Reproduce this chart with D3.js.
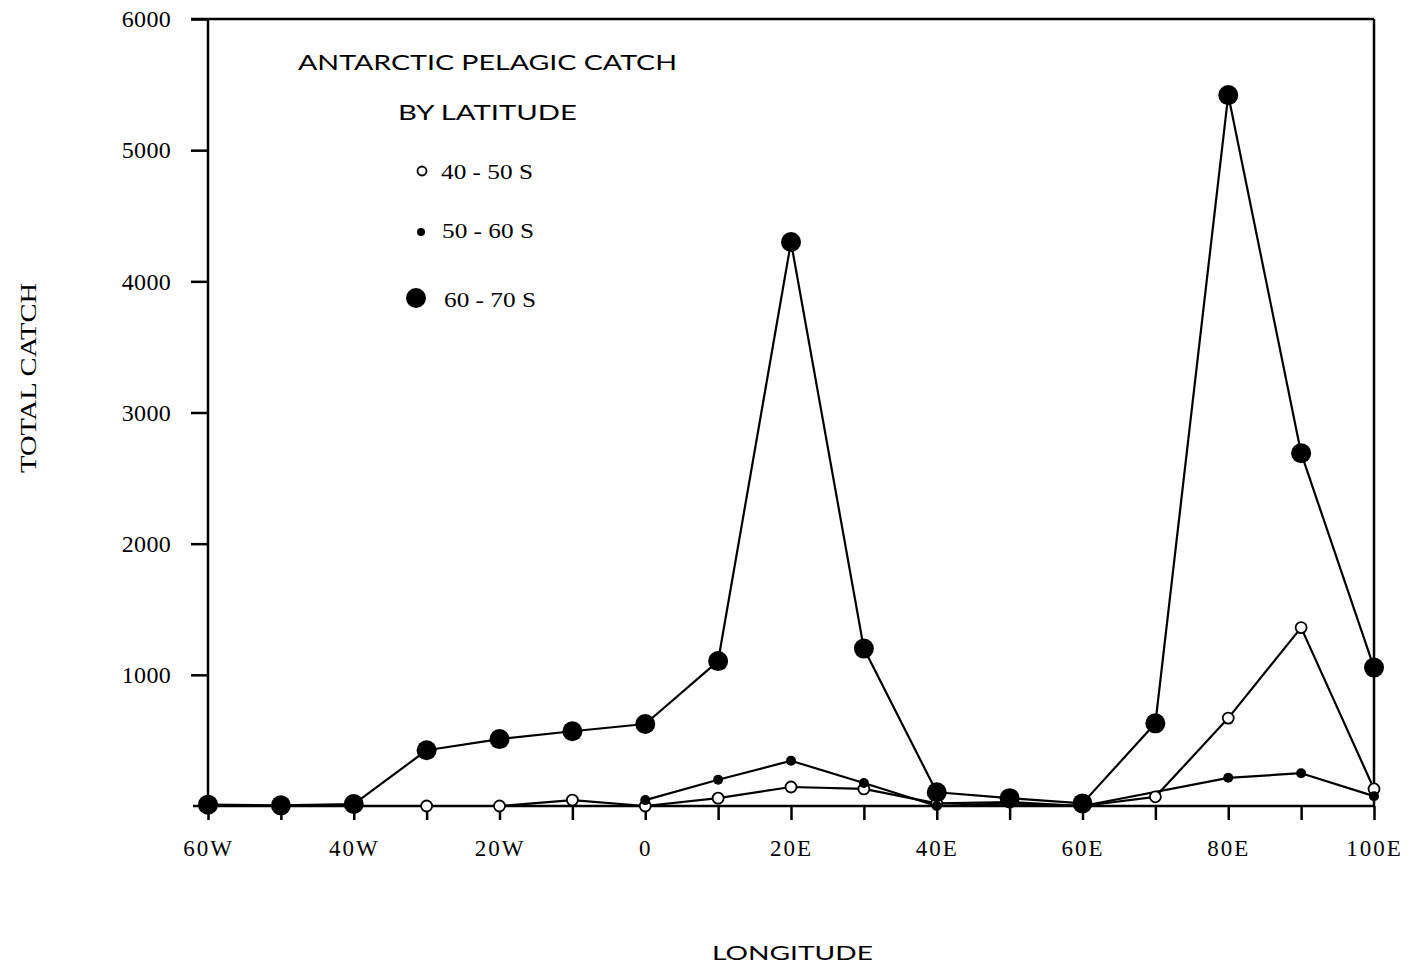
<!DOCTYPE html>
<html>
<head>
<meta charset="utf-8">
<script src="https://cdn.jsdelivr.net/npm/d3@7"></script>
<style>
  html, body { margin: 0; padding: 0; background: #fff; }
  svg { display: block; }
</style>
</head>
<body>
<svg id="chart" width="1413" height="971"></svg>
<script>
// Longitudes (negative = west, positive = east)
const longitudes = [-60, -50, -40, -30, -20, -10, 0, 10, 20, 30, 40, 50, 60, 70, 80, 90, 100];

// Catch by latitude band (null = not recorded)
const catch40to50 = [null, null, null, 0, 0, 45, 0, 60, 145, 130, 20, 30, 0, 70, 670, 1360, 130];
const catch50to60 = [null, null, null, null, null, null, 45, 200, 345, 175, 0, 20, 0, null, 215, 250, 75];
const catch60to70 = [10, 5, 15, 425, 510, 570, 625, 1105, 4300, 1200, 105, 60, 20, 630, 5420, 2690, 1055];

const yTicks = [1000, 2000, 3000, 4000, 5000, 6000];
const xTickLabels = { "-60": "60W", "-40": "40W", "-20": "20W", "0": "0", "20": "20E", "40": "40E", "60": "60E", "80": "80E", "100": "100E" };

const legendItems = [
  { label: "40 - 50 S", kind: "open" },
  { label: "50 - 60 S", kind: "small" },
  { label: "60 - 70 S", kind: "big" }
];

const svg = d3.select("#chart");
const x = d3.scaleLinear().domain([-60, 100]).range([208, 1374]);
const y = d3.scaleLinear().domain([0, 6000]).range([806, 19]);

const serif = "'Liberation Serif', 'DejaVu Serif', serif";
const sans = "Lato, 'Open Sans', sans-serif";

// Axes
const yAxis = d3.axisLeft(y).tickValues(yTicks).tickSize(17).tickPadding(20).tickFormat(d3.format("d"));
const gy = svg.append("g").attr("transform", `translate(${x(-60)},0)`).call(yAxis);
gy.select(".domain").remove();
gy.selectAll(".tick line").attr("stroke", "#000").attr("stroke-width", 2.5);
gy.selectAll(".tick text").attr("font-family", serif).attr("font-size", 24)
  .attr("letter-spacing", 0.3).attr("fill", "#000");

const xAxis = d3.axisBottom(x).tickValues(longitudes).tickSize(14).tickPadding(20)
  .tickFormat(d => xTickLabels[String(d)] || "");
const gx = svg.append("g").attr("transform", `translate(0,${y(0)})`).call(xAxis);
gx.select(".domain").remove();
gx.selectAll(".tick line").attr("stroke", "#000").attr("stroke-width", 2.5);
gx.selectAll(".tick text").attr("font-family", serif).attr("font-size", 23)
  .attr("letter-spacing", 2).attr("fill", "#000");

// Frame
const frame = svg.append("g").attr("stroke", "#000").attr("stroke-width", 2.5).attr("fill", "none");
frame.append("line").attr("x1", x(-60)).attr("x2", x(-60)).attr("y1", y(6000)).attr("y2", y(0));
frame.append("line").attr("x1", x(-60) - 17).attr("x2", x(100)).attr("y1", y(6000)).attr("y2", y(6000));
frame.append("line").attr("x1", x(100)).attr("x2", x(100)).attr("y1", y(6000)).attr("y2", y(0));
frame.append("line").attr("x1", x(-60) - 15).attr("x2", x(100)).attr("y1", y(0)).attr("y2", y(0));

// Series lines
const series = [
  { values: catch40to50, kind: "open" },
  { values: catch50to60, kind: "small" },
  { values: catch60to70, kind: "big" }
];
const line = d3.line()
  .defined(d => d.v !== null)
  .x(d => x(d.lon))
  .y(d => y(d.v));

series.forEach(s => {
  s.points = longitudes.map((lon, i) => ({ lon, v: s.values[i] })).filter(d => d.v !== null);
  svg.append("path")
    .datum(s.points)
    .attr("d", line)
    .attr("fill", "none")
    .attr("stroke", "#000")
    .attr("stroke-width", 2.2)
    .attr("stroke-linejoin", "round");
});

function marker(sel, kind) {
  if (kind === "open") {
    sel.attr("r", 5.5).attr("fill", "#fff").attr("stroke", "#000").attr("stroke-width", 1.8);
  } else if (kind === "small") {
    sel.attr("r", 5).attr("fill", "#000");
  } else {
    sel.attr("r", 10).attr("fill", "#000");
  }
}

// Markers: open first, then small, large on top
series.forEach(s => {
  svg.append("g").selectAll("circle")
    .data(s.points)
    .join("circle")
    .attr("cx", d => x(d.lon))
    .attr("cy", d => y(d.v))
    .call(marker, s.kind);
});

// Title
svg.append("text").attr("x", 298).attr("y", 70)
  .attr("font-family", sans).attr("font-size", 21)
  .attr("textLength", 379).attr("lengthAdjust", "spacingAndGlyphs")
  .text("ANTARCTIC PELAGIC CATCH");
svg.append("text").attr("x", 398).attr("y", 120)
  .attr("font-family", sans).attr("font-size", 21)
  .attr("textLength", 179).attr("lengthAdjust", "spacingAndGlyphs")
  .text("BY LATITUDE");

// Legend
const legendY = [171, 232, 298];
const legendBase = [179, 238, 307];
const legendMarkX = [422, 421, 416];
const legendTextX = [441, 442, 444];
legendItems.forEach((item, i) => {
  svg.append("circle").attr("cx", legendMarkX[i]).attr("cy", legendY[i]).call(marker, item.kind)
    .attr("r", item.kind === "open" ? 4.5 : item.kind === "small" ? 4 : 10);
  svg.append("text").attr("x", legendTextX[i]).attr("y", legendBase[i])
    .attr("font-family", serif).attr("font-size", 21)
    .attr("textLength", 92).attr("lengthAdjust", "spacingAndGlyphs")
    .text(item.label);
});

// Axis titles
svg.append("text")
  .attr("transform", "translate(36,473) rotate(-90)")
  .attr("font-family", serif).attr("font-size", 24)
  .attr("textLength", 190).attr("lengthAdjust", "spacingAndGlyphs")
  .text("TOTAL CATCH");
svg.append("text").attr("x", 712).attr("y", 960)
  .attr("font-family", sans).attr("font-size", 19)
  .attr("textLength", 161).attr("lengthAdjust", "spacingAndGlyphs")
  .text("LONGITUDE");
</script>
</body>
</html>
